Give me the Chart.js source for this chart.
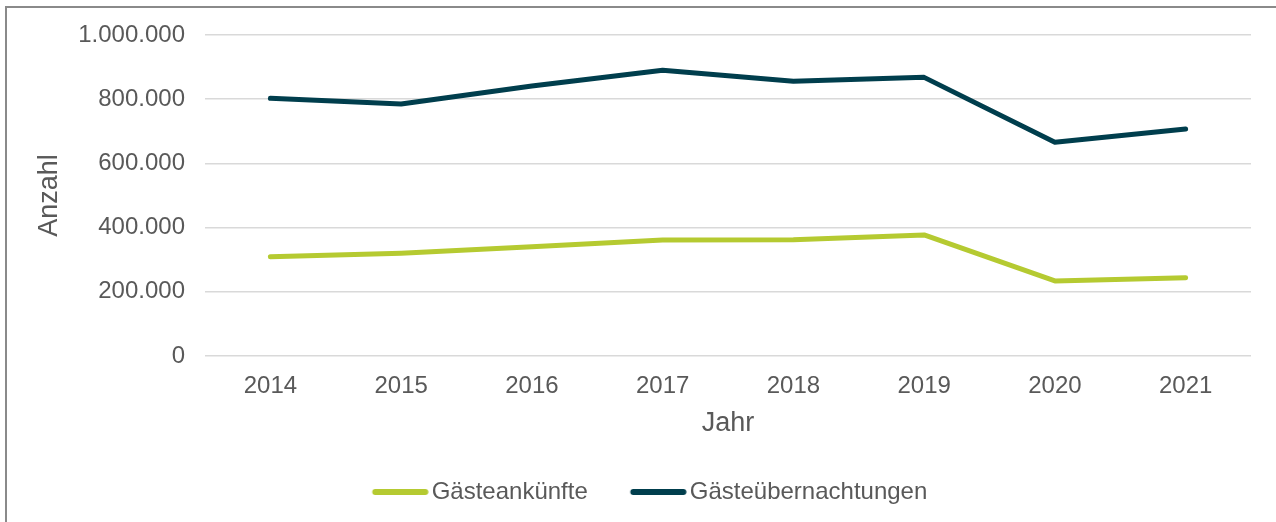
<!DOCTYPE html>
<html lang="de">
<head>
<meta charset="utf-8">
<title>Gästeankünfte und Gästeübernachtungen</title>
<script src="https://cdn.jsdelivr.net/npm/chart.js@4.4.1/dist/chart.umd.min.js"></script>
<style>
  html, body { margin: 0; padding: 0; background: #fff; overflow: hidden; }
  .frame {
    position: absolute; left: 5px; top: 6px; width: 1300px; height: 540px;
    border-left: 2px solid #8a8a8a; border-top: 2px solid #8a8a8a;
  }
  .wrap { position: absolute; left: 0; top: 0; width: 1276px; height: 522px; }
</style>
</head>
<body>
<div class="frame"></div>
<div class="wrap"><canvas id="chart"></canvas></div>
<script>
  const years = ['2014', '2015', '2016', '2017', '2018', '2019', '2020', '2021'];
  const ankuenfte = [309000, 320000, 340000, 361000, 362000, 377000, 234000, 244000];
  const uebernachtungen = [803000, 785000, 841000, 890000, 856000, 868000, 666000, 707000];

  const GREEN = '#b5ca31';
  const DARK = '#003e4d';
  const TEXT = '#595959';
  const FONT = 'Liberation Sans, Arial, sans-serif';

  const formatDe = (v) => String(v).replace(/\B(?=(\d{3})+(?!\d))/g, '.');

  // legend marker: short thick line sitting on the right side of the box,
  // so it ends just before the label like in the original
  function legendLine(color) {
    const c = document.createElement('canvas');
    c.width = 98;
    c.height = 8;
    const g = c.getContext('2d');
    g.strokeStyle = color;
    g.lineWidth = 6;
    g.lineCap = 'round';
    g.beginPath();
    g.moveTo(44.5, 4);
    g.lineTo(94.5, 4);
    g.stroke();
    return c;
  }

  const ctx = document.getElementById('chart').getContext('2d');
  new Chart(ctx, {
    type: 'line',
    data: {
      labels: years,
      datasets: [
        {
          label: 'Gästeankünfte',
          data: ankuenfte,
          borderColor: GREEN,
          backgroundColor: GREEN,
          borderWidth: 5,
          borderCapStyle: 'round',
          borderJoinStyle: 'round',
          pointRadius: 0,
          tension: 0,
        },
        {
          label: 'Gästeübernachtungen',
          data: uebernachtungen,
          borderColor: DARK,
          backgroundColor: DARK,
          borderWidth: 5,
          borderCapStyle: 'round',
          borderJoinStyle: 'round',
          pointRadius: 0,
          tension: 0,
        },
      ],
    },
    options: {
      responsive: true,
      maintainAspectRatio: false,
      animation: false,
      layout: {
        padding: { left: 16, right: 25, top: 35, bottom: 8 },
      },
      scales: {
        x: {
          offset: true,
          grid: { display: false, drawTicks: false },
          border: { display: false },
          ticks: {
            color: TEXT,
            padding: 16,
            font: { family: FONT, size: 24 },
          },
          title: {
            display: true,
            text: 'Jahr',
            color: TEXT,
            font: { family: FONT, size: 27 },
            padding: { top: 0, bottom: 30 },
          },
          afterFit: (scale) => { scale.height = 114; },
        },
        y: {
          min: 0,
          max: 1000000,
          grid: { color: '#d9d9d9', lineWidth: 1.5, drawTicks: false },
          border: { display: false },
          ticks: {
            stepSize: 200000,
            color: TEXT,
            padding: 20,
            font: { family: FONT, size: 24 },
            callback: (value) => formatDe(value),
          },
          title: {
            display: true,
            text: 'Anzahl',
            color: TEXT,
            font: { family: FONT, size: 27 },
            padding: { top: 17, bottom: 0 },
          },
          afterFit: (scale) => { scale.width = 189; },
        },
      },
      plugins: {
        legend: {
          position: 'bottom',
          labels: {
            usePointStyle: true,
            pointStyleWidth: 80,
            padding: 10,
            color: TEXT,
            font: { family: FONT, size: 24 },
            generateLabels: (chart) => chart.data.datasets.map((ds, i) => ({
              text: ds.label,
              fillStyle: ds.borderColor,
              strokeStyle: ds.borderColor,
              lineWidth: 0,
              pointStyle: legendLine(ds.borderColor),
              fontColor: TEXT,
              hidden: false,
              datasetIndex: i,
            })),
          },
        },
        tooltip: { enabled: false },
      },
    },
  });
</script>
</body>
</html>
